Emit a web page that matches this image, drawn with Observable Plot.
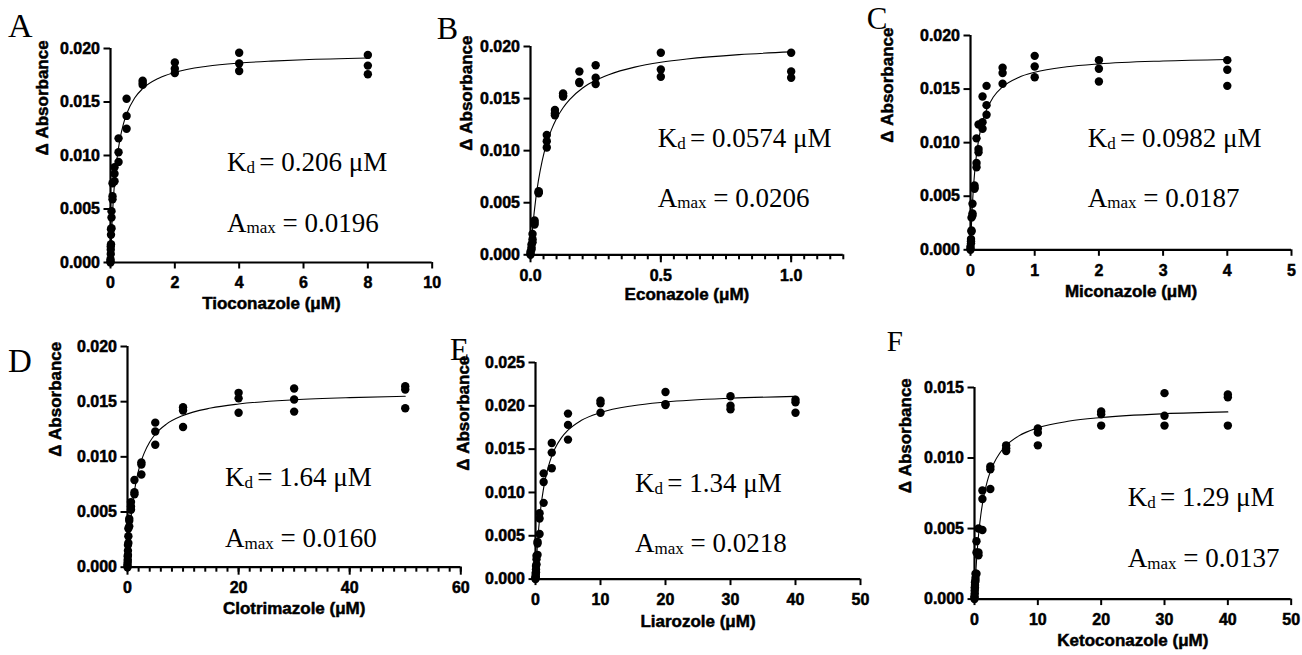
<!DOCTYPE html>
<html><head><meta charset="utf-8">
<script src="https://cdn.jsdelivr.net/npm/d3@7"></script>
<script src="https://cdn.jsdelivr.net/npm/@observablehq/plot@0.6"></script>
<style>
html,body{margin:0;padding:0;background:#fff;}
#fig{position:relative;width:1302px;height:655px;overflow:hidden;background:#fff;}
#fig svg{position:absolute;overflow:visible;}
#fig svg.panel text{stroke:#000;stroke-width:0.5px;}
</style></head><body><div id="fig"></div>
<script>
// ---------- DATA ----------
const panelLetters = ["A","B","C","D","E","F"];
const xTitles = ["Tioconazole (μM)","Econazole (μM)","Miconazole (μM)","Clotrimazole (μM)","Liarozole (μM)","Ketoconazole (μM)"];
const yTitle = "Δ Absorbance";
const kdValues = ["0.206","0.0574","0.0982","1.64","1.34","1.29"];
const amaxValues = ["0.0196","0.0206","0.0187","0.0160","0.0218","0.0137"];

// A: Tioconazole
const tioConc = [8,4,2,1,0.5,0.25,0.125,0.0625,0.03125,0.0156,0.0078,0];
const tioRep1 = [0.0194,0.0196,0.0187,0.0170,0.0153,0.0116,0.0089,0.0074,0.0048,0.0031,0.0015,0.0003];
const tioRep2 = [0.0184,0.0186,0.0181,0.0168,0.0137,0.0103,0.0083,0.0062,0.0042,0.0026,0.0012,0.0001];
const tioRep3 = [0.0176,0.0179,0.0177,0.0166,0.0125,0.0094,0.0076,0.0059,0.0032,0.0017,0.0008,0.0000];
const tioFitX = [0,0.05,0.1,0.15,0.2,0.3,0.4,0.5,0.75,1,1.5,2,3,4,5,6,8];
const tioFitY = [0,0.00383,0.00641,0.00826,0.00966,0.01162,0.01294,0.01388,0.01538,0.01625,0.01723,0.01777,0.01834,0.01864,0.01882,0.01895,0.01911];

// B: Econazole
const econConc = [1.0,0.5,0.25,0.1875,0.125,0.09375,0.0625,0.03125,0.0156,0.0078,0.0039,0];
const econRep1 = [0.0194,0.0194,0.0182,0.0176,0.0155,0.0139,0.0115,0.0061,0.0033,0.0020,0.0010,0.0003];
const econRep2 = [0.0176,0.0178,0.0170,0.0166,0.0153,0.0136,0.0109,0.0060,0.0031,0.0015,0.0007,0.0001];
const econRep3 = [0.0170,0.0171,0.0164,0.0165,0.0152,0.0134,0.0103,0.0059,0.0029,0.0012,0.0005,0.0000];
const econFitX = [0,0.01,0.02,0.03,0.045,0.06,0.08,0.1,0.125,0.15,0.2,0.25,0.3,0.4,0.5,0.6,0.8,1.0];
const econFitY = [0,0.00306,0.00532,0.00707,0.00905,0.01053,0.01199,0.01309,0.01412,0.01490,0.01601,0.01675,0.01729,0.01802,0.01848,0.01880,0.01922,0.01948];

// C: Miconazole
const micoConc = [4,2,1,0.5,0.25,0.1875,0.125,0.09375,0.0625,0.03125,0.0156,0.0078,0];
const micoRep1 = [0.0177,0.0177,0.0181,0.0170,0.0153,0.0143,0.0117,0.0104,0.0060,0.0043,0.0030,0.0010,0.0003];
const micoRep2 = [0.0168,0.0169,0.0171,0.0165,0.0135,0.0119,0.0094,0.0081,0.0058,0.0034,0.0018,0.0008,0.0001];
const micoRep3 = [0.0153,0.0157,0.0161,0.0155,0.0126,0.0113,0.0091,0.0077,0.0057,0.0032,0.0017,0.0006,0.0000];
const micoFitX = [0,0.02,0.04,0.06,0.08,0.1,0.15,0.2,0.25,0.35,0.5,0.75,1,1.5,2,3,4];
const micoFitY = [0,0.00308,0.00527,0.00690,0.00817,0.00918,0.01100,0.01221,0.01307,0.01421,0.01521,0.01609,0.01657,0.01708,0.01735,0.01762,0.01776];

// D: Clotrimazole
const clotConc = [50,30,20,10,5,2.5,1.25,0.625,0.3125,0.156,0.078,0.039,0];
const clotRep1 = [0.0164,0.0162,0.0158,0.0145,0.0131,0.0095,0.0079,0.0059,0.0044,0.0035,0.0020,0.0010,0.0003];
const clotRep2 = [0.0161,0.0152,0.0153,0.0142,0.0123,0.0093,0.0068,0.0055,0.0042,0.0028,0.0015,0.0007,0.0001];
const clotRep3 = [0.0144,0.0141,0.0140,0.0127,0.0111,0.0084,0.0066,0.0052,0.0037,0.0022,0.0011,0.0005,0.0000];
const clotFitX = [0,0.25,0.5,0.75,1,1.5,2,2.5,3,4,5,7,10,15,20,30,40,50];
const clotFitY = [0,0.00212,0.00374,0.00502,0.00606,0.00764,0.00879,0.00966,0.01034,0.01135,0.01205,0.01296,0.01375,0.01442,0.01479,0.01517,0.01537,0.01549];

// E: Liarozole
const liarConc = [40,30,20,10,5,2.5,1.25,0.625,0.3125,0.156,0.078,0.039,0];
const liarRep1 = [0.0207,0.0211,0.0216,0.0206,0.0191,0.0157,0.0122,0.0076,0.0043,0.0027,0.0015,0.0007,0.0002];
const liarRep2 = [0.0204,0.0200,0.0202,0.0203,0.0178,0.0146,0.0112,0.0070,0.0041,0.0023,0.0011,0.0005,0.0001];
const liarRep3 = [0.0192,0.0196,0.0201,0.0192,0.0161,0.0128,0.0088,0.0052,0.0028,0.0017,0.0008,0.0003,0.0000];
const liarFitX = [0,0.25,0.5,0.75,1,1.5,2,2.5,3,4,5,7,10,15,20,30,40];
const liarFitY = [0,0.00343,0.00592,0.00782,0.00932,0.01151,0.01305,0.01419,0.01507,0.01633,0.01719,0.01830,0.01922,0.02001,0.02043,0.02087,0.02109];

// F: Ketoconazole
const ketoConc = [40,30,20,10,5,2.5,1.25,0.625,0.3125,0.156,0.078,0.039,0];
const ketoRep1 = [0.0145,0.0146,0.0133,0.0121,0.0109,0.0094,0.0077,0.0050,0.0041,0.0018,0.0012,0.0008,0.0002];
const ketoRep2 = [0.0143,0.0130,0.0131,0.0118,0.0107,0.0092,0.0071,0.0033,0.0033,0.0015,0.0010,0.0006,0.0001];
const ketoRep3 = [0.0123,0.0123,0.0123,0.0109,0.0105,0.0078,0.0049,0.0031,0.0018,0.0013,0.0008,0.0004,0.0000];
const ketoFitX = [0,0.25,0.5,0.75,1,1.5,2,2.5,3,4,5,7,10,15,20,30,40];
const ketoFitY = [0,0.00222,0.00383,0.00504,0.00598,0.00737,0.00833,0.00904,0.00958,0.01036,0.01089,0.01157,0.01214,0.01262,0.01287,0.01314,0.01327];

// tick values
const yTicks020 = [0,0.005,0.010,0.015,0.020];
const yTicks025 = [0,0.005,0.010,0.015,0.020,0.025];
const yTicks015 = [0,0.005,0.010,0.015];
const xTicksA = [0,2,4,6,8,10];
const xTicksB = [0,0.5,1.0];
const xMinorB = [0,0.05,0.1,0.15,0.2,0.25,0.3,0.35,0.4,0.45,0.5,0.55,0.6,0.65,0.7,0.75,0.8,0.85,0.9,0.95,1.0,1.05,1.1,1.15,1.2];
const xTicksC = [0,1,2,3,4,5];
const xTicksD = [0,20,40,60];
const xMinorD = [0,2,4,6,8,10,12,14,16,18,20,22,24,26,28,30,32,34,36,38,40,42,44,46,48,50,52,54,56,58,60];
const xTicksEF = [0,10,20,30,40,50];

// ---------- PANEL SPECS ----------
const panels = [
  {conc: tioConc, reps: [tioRep1,tioRep2,tioRep3], fitX: tioFitX, fitY: tioFitY, xDomain:[0,10], yDomain:[0,0.020], xMajor: xTicksA, xMinor: null, xFmt: d3.format("d"), yTicks: yTicks020},
  {conc: econConc, reps: [econRep1,econRep2,econRep3], fitX: econFitX, fitY: econFitY, xDomain:[0,1.2], yDomain:[0,0.020], xMajor: xTicksB, xMinor: xMinorB, xFmt: d3.format(".1f"), yTicks: yTicks020},
  {conc: micoConc, reps: [micoRep1,micoRep2,micoRep3], fitX: micoFitX, fitY: micoFitY, xDomain:[0,5], yDomain:[0,0.020], xMajor: xTicksC, xMinor: null, xFmt: d3.format("d"), yTicks: yTicks020},
  {conc: clotConc, reps: [clotRep1,clotRep2,clotRep3], fitX: clotFitX, fitY: clotFitY, xDomain:[0,60], yDomain:[0,0.020], xMajor: xTicksD, xMinor: xMinorD, xFmt: d3.format("d"), yTicks: yTicks020},
  {conc: liarConc, reps: [liarRep1,liarRep2,liarRep3], fitX: liarFitX, fitY: liarFitY, xDomain:[0,50], yDomain:[0,0.025], xMajor: xTicksEF, xMinor: null, xFmt: d3.format("d"), yTicks: yTicks025},
  {conc: ketoConc, reps: [ketoRep1,ketoRep2,ketoRep3], fitX: ketoFitX, fitY: ketoFitY, xDomain:[0,50], yDomain:[0,0.015], xMajor: xTicksEF, xMinor: null, xFmt: d3.format("d"), yTicks: yTicks015}
];

// layout (pixel geometry of each panel's frame)
const layout = [
  {ax:110,   y0:261.7, xEnd:431.7, yTop:47.7,  yTitleDx:-68,   xTitleDy:46.5, lx:8,     ly:36.7,  ls:34, kx:227,    ky:170.5, ay:231.7},
  {ax:530,   y0:254.3, xEnd:842.8, yTop:46,    yTitleDx:-63.5, xTitleDy:45.7, lx:436.7, ly:39.3,  ls:32, kx:657.7,  ky:146.7, ay:206.7},
  {ax:970,   y0:249.3, xEnd:1291,  yTop:35,    yTitleDx:-83.3, xTitleDy:47.4, lx:866.7, ly:28.8,  ls:31, kx:1087.7, ky:146.7, ay:206.7},
  {ax:126.7, y0:566.7, xEnd:460,   yTop:346,   yTitleDx:-71.7, xTitleDy:46.6, lx:8,     ly:371.7, ls:33, kx:225,    ky:485.5, ay:547.3},
  {ax:535,   y0:578.3, xEnd:860,   yTop:361.7, yTitleDx:-71.7, xTitleDy:48.4, lx:450,   ly:360,   ls:31, kx:635,    ky:492,   ay:552},
  {ax:974.3, y0:598.3, xEnd:1291,  yTop:386.7, yTitleDx:-69.3, xTitleDy:46.7, lx:886.7, ly:350.5, ls:29, kx:1127.7, ky:505.5, ay:567}
];

const fig = document.getElementById("fig");
const sansFont = "'Liberation Sans', Arial, Helvetica, sans-serif";
const serifFont = "'Liberation Serif', 'Times New Roman', Times, serif";

panels.forEach((p, i) => {
  const L = layout[i];
  const mL = 95, mR = 25, mT = 15, mB = 65;
  const w = mL + (L.xEnd - L.ax) + mR;
  const h = mT + (L.y0 - L.yTop) + mB;
  const pts = [];
  p.reps.forEach(rep => rep.forEach((v, k) => pts.push({x: p.conc[k], y: v})));
  const fit = p.fitX.map((x, k) => ({x, y: p.fitY[k]}));
  const marks = [];
  if (p.xMinor) marks.push(Plot.axisX(p.xMinor, {tickSize: 5, tickFormat: () => "", strokeWidth: 2, label: null}));
  marks.push(
    Plot.axisX(p.xMajor, {tickSize: p.xMinor ? 8 : 6.5, tickPadding: p.xMinor ? 6.5 : 8, tickFormat: p.xFmt, fontSize: 16, fontWeight: "bold", strokeWidth: 2, label: null}),
    Plot.axisY(p.yTicks, {tickSize: 6.5, tickPadding: 4, tickFormat: d3.format(".3f"), fontSize: 16, fontWeight: "bold", strokeWidth: 2, label: null}),
    Plot.ruleX([0], {strokeWidth: 2.2}),
    Plot.ruleY([0], {strokeWidth: 2.2}),
    Plot.line(fit, {x: "x", y: "y", curve: "monotone-x", stroke: "black", strokeWidth: 1.1}),
    Plot.dot(pts, {x: "x", y: "y", r: 4.2, fill: "black", stroke: "none"}),
    Plot.text([xTitles[i]], {frameAnchor: "bottom", dy: L.xTitleDy, fontSize: 17, fontWeight: "bold"}),
    Plot.text([yTitle], {frameAnchor: "left", dx: L.yTitleDx, rotate: -90, fontSize: 17, fontWeight: "bold"})
  );
  const svg = Plot.plot({
    width: w, height: h,
    marginLeft: mL, marginRight: mR, marginTop: mT, marginBottom: mB,
    x: {domain: p.xDomain},
    y: {domain: p.yDomain},
    style: {background: "transparent", overflow: "visible", fontFamily: sansFont, color: "black"},
    marks
  });
  svg.classList.add("panel");
  svg.style.left = (L.ax - mL) + "px";
  svg.style.top = (L.yTop - mT) + "px";
  svg.style.maxWidth = "none";
  fig.appendChild(svg);
});

// overlay: panel letters and fit annotations
const over = d3.create("svg").attr("width", 1302).attr("height", 655)
  .style("left", "0px").style("top", "0px").style("pointer-events", "none");
layout.forEach((L, i) => {
  over.append("text").attr("x", L.lx).attr("y", L.ly)
    .attr("font-family", serifFont).attr("font-size", L.ls).attr("fill", "black").text(panelLetters[i]);
  const kd = over.append("text").attr("x", L.kx).attr("y", L.ky)
    .attr("font-family", serifFont).attr("font-size", 27).attr("fill", "black");
  kd.append("tspan").text("K");
  kd.append("tspan").attr("font-size", 17).attr("dy", 2).text("d ");
  kd.append("tspan").attr("dy", -2).text("= " + kdValues[i] + " μM");
  const am = over.append("text").attr("x", L.kx).attr("y", L.ay)
    .attr("font-family", serifFont).attr("font-size", 27).attr("fill", "black");
  am.append("tspan").text("A");
  am.append("tspan").attr("font-size", 17).attr("dy", 1.5).text("max");
  am.append("tspan").attr("dy", -1.5).text(" = " + amaxValues[i]);
});
fig.appendChild(over.node());
</script></body></html>
